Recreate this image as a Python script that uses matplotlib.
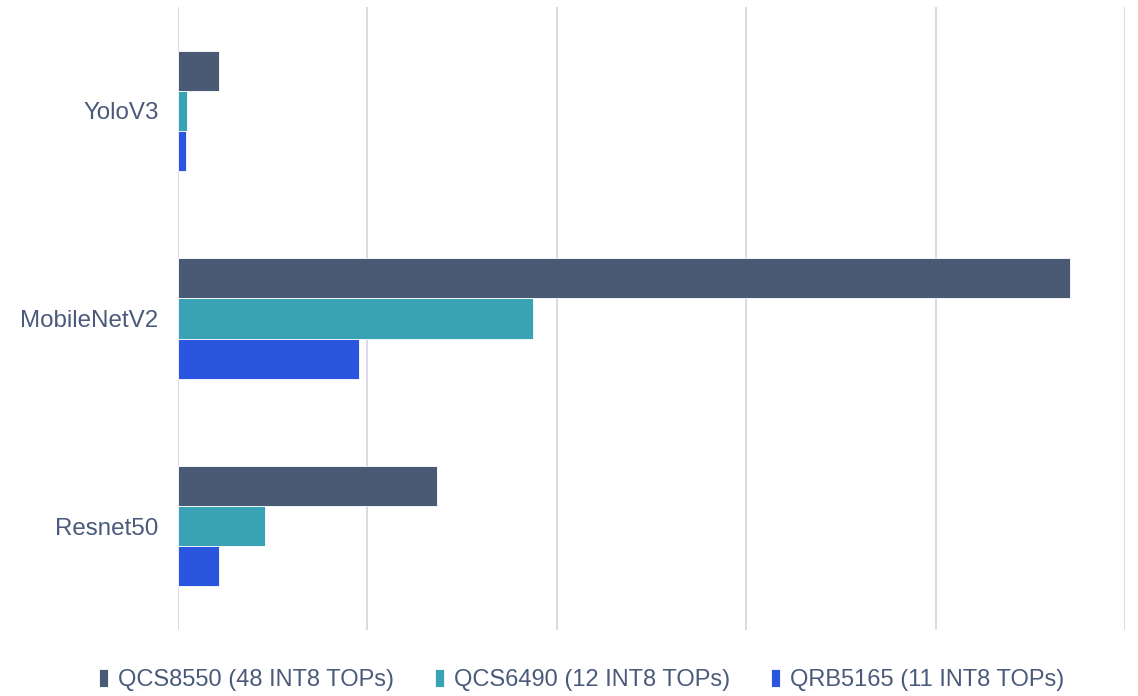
"""Horizontal grouped bar chart: model throughput per platform."""

import matplotlib
matplotlib.use("Agg")
import matplotlib.pyplot as plt
import numpy as np

# Data (relative units, one gridline = 1)
models = ["YoloV3", "MobileNetV2", "Resnet50"]
series_names = [
    "QCS8550 (48 INT8 TOPs)",
    "QCS6490 (12 INT8 TOPs)",
    "QRB5165 (11 INT8 TOPs)",
]
qcs8550 = [0.215, 4.71, 1.365]
qcs6490 = [0.047, 1.875, 0.46]
qrb5165 = [0.042, 0.955, 0.215]

COLORS = ["#4a5a75", "#3aa2b5", "#2a55de"]
TEXT = "#4a5a7a"
GRID = "#d6d7e2"

plt.rcParams.update({
    "font.family": ["Liberation Sans", "DejaVu Sans"],
    "font.size": 17,
})

fig = plt.figure(figsize=(11.38, 6.96), dpi=100)
ax = fig.add_axes([0.1564, 0.0948, 0.8322, 0.8951])

y = np.arange(len(models))
h = 0.193
for i, (vals, name) in enumerate(zip([qcs8550, qcs6490, qrb5165], series_names)):
    ax.barh(y + (i - 1) * h, vals, height=h, color=COLORS[i],
            edgecolor="white", linewidth=0.6, label=name, zorder=3)

ax.set_xlim(0, 5)
ax.set_xticks(np.arange(0, 6, 1))
ax.set_xticklabels([])
ax.set_ylim(2.5, -0.5)
ax.set_yticks(y)
ax.set_yticklabels(models, color=TEXT, fontsize=17.4)
ax.tick_params(axis="both", length=0)
ax.tick_params(axis="y", pad=14)
ax.grid(axis="x", color=GRID, linewidth=1.3, zorder=0)
for s in ax.spines.values():
    s.set_visible(False)

leg = fig.legend(loc="center", bbox_to_anchor=(0.511, 0.023), ncol=3,
                 frameon=False, fontsize=17, handlelength=0.38, handleheight=0.8,
                 handletextpad=0.42, columnspacing=1.75, borderaxespad=0)
for t in leg.get_texts():
    t.set_color(TEXT)

fig.savefig("out.png", dpi=100)
